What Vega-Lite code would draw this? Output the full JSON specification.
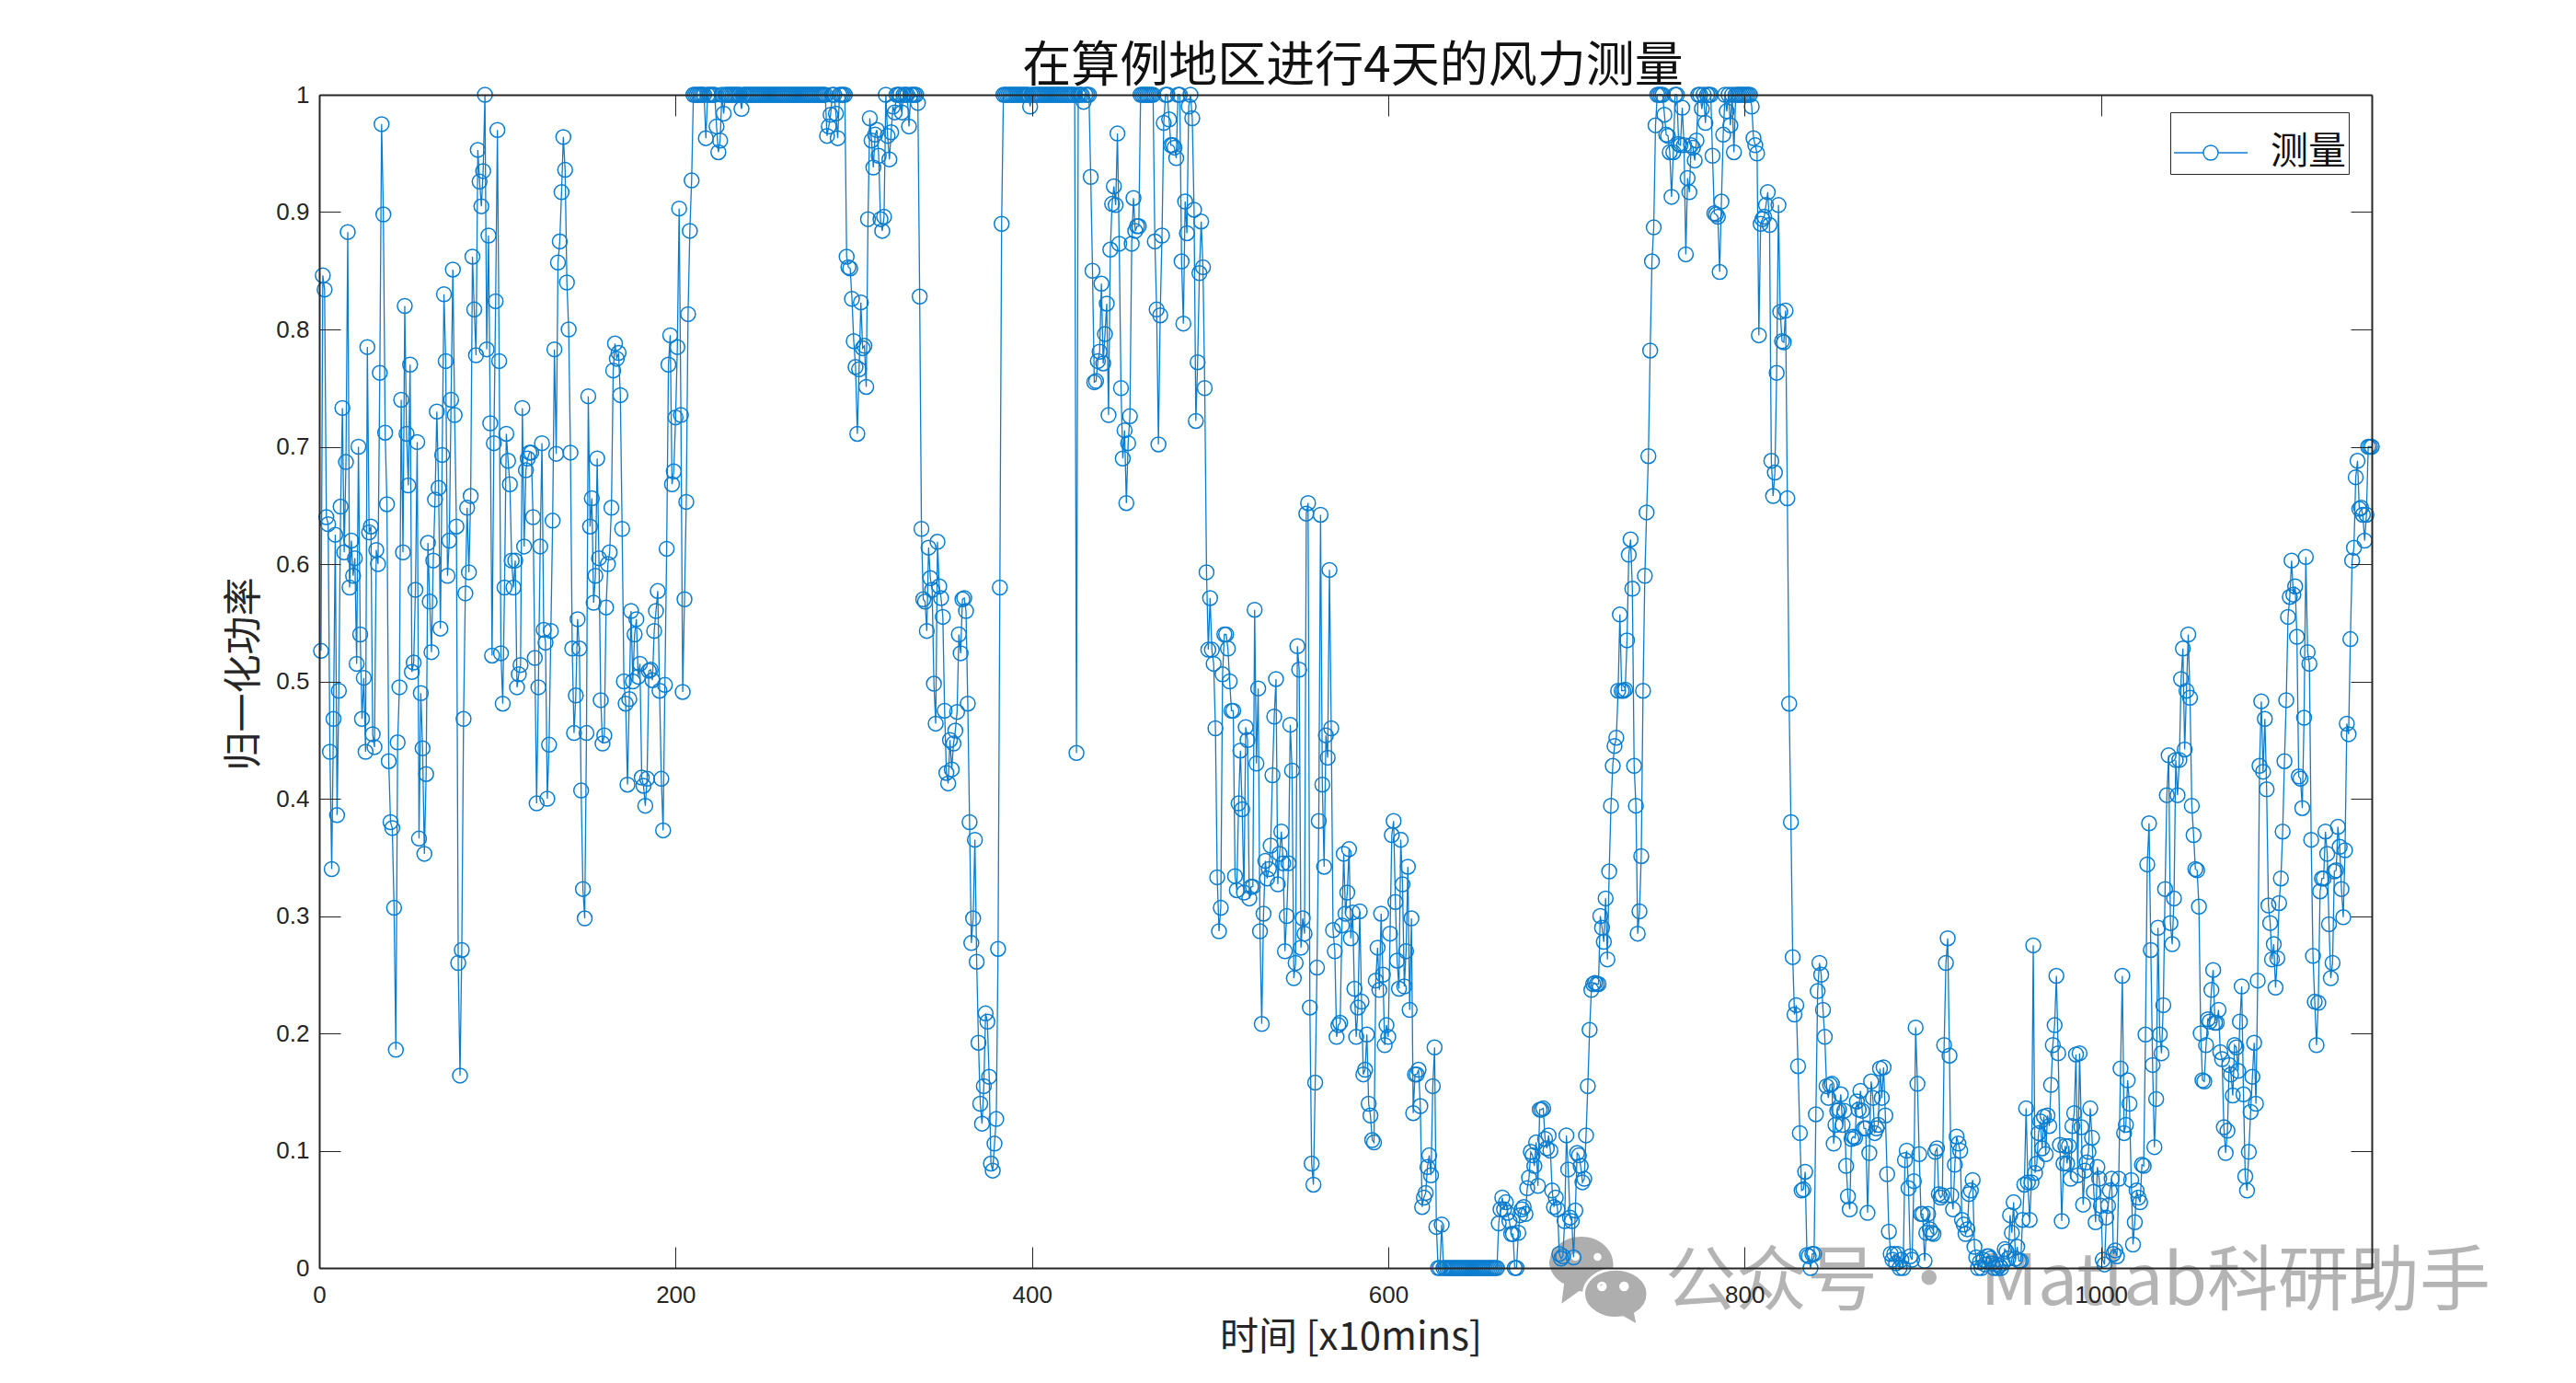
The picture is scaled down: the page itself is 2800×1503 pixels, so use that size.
{"$schema":"https://vega.github.io/schema/vega-lite/v6.json","width":2231,"height":1275,"autosize":{"type":"none"},"padding":{"left":347,"top":103,"right":222,"bottom":125},"background":"white","config":{"view":{"stroke":null}},"title":{"text":"在算例地区进行4天的风力测量","font":"Noto Sans CJK SC","fontSize":53,"fontWeight":"normal","color":"#111111","anchor":"middle","offset":-10,"dx":8},"data":{"values":[{"t":1,"p":0.526},{"t":2,"p":0.846},{"t":3,"p":0.834},{"t":4,"p":0.64},{"t":5,"p":0.634},{"t":6,"p":0.44},{"t":7,"p":0.34},{"t":8,"p":0.468},{"t":9,"p":0.625},{"t":10,"p":0.386},{"t":11,"p":0.492},{"t":12,"p":0.649},{"t":13,"p":0.733},{"t":14,"p":0.61},{"t":15,"p":0.687},{"t":16,"p":0.883},{"t":17,"p":0.58},{"t":18,"p":0.62},{"t":19,"p":0.59},{"t":20,"p":0.605},{"t":21,"p":0.515},{"t":22,"p":0.7},{"t":23,"p":0.54},{"t":24,"p":0.468},{"t":25,"p":0.503},{"t":26,"p":0.44},{"t":27,"p":0.785},{"t":28,"p":0.627},{"t":29,"p":0.632},{"t":30,"p":0.455},{"t":31,"p":0.444},{"t":32,"p":0.612},{"t":33,"p":0.6},{"t":34,"p":0.763},{"t":35,"p":0.975},{"t":36,"p":0.898},{"t":37,"p":0.712},{"t":38,"p":0.651},{"t":39,"p":0.432},{"t":40,"p":0.38},{"t":41,"p":0.375},{"t":42,"p":0.307},{"t":43,"p":0.186},{"t":44,"p":0.448},{"t":45,"p":0.495},{"t":46,"p":0.74},{"t":47,"p":0.61},{"t":48,"p":0.82},{"t":49,"p":0.711},{"t":50,"p":0.667},{"t":51,"p":0.77},{"t":52,"p":0.508},{"t":53,"p":0.516},{"t":54,"p":0.578},{"t":55,"p":0.704},{"t":56,"p":0.366},{"t":57,"p":0.49},{"t":58,"p":0.443},{"t":59,"p":0.353},{"t":60,"p":0.421},{"t":61,"p":0.618},{"t":62,"p":0.568},{"t":63,"p":0.525},{"t":64,"p":0.603},{"t":65,"p":0.655},{"t":66,"p":0.73},{"t":67,"p":0.665},{"t":68,"p":0.545},{"t":69,"p":0.693},{"t":70,"p":0.83},{"t":71,"p":0.773},{"t":72,"p":0.59},{"t":73,"p":0.62},{"t":74,"p":0.74},{"t":75,"p":0.851},{"t":76,"p":0.727},{"t":77,"p":0.632},{"t":78,"p":0.26},{"t":79,"p":0.164},{"t":80,"p":0.271},{"t":81,"p":0.468},{"t":82,"p":0.575},{"t":83,"p":0.648},{"t":84,"p":0.593},{"t":85,"p":0.658},{"t":86,"p":0.862},{"t":87,"p":0.817},{"t":88,"p":0.778},{"t":89,"p":0.953},{"t":90,"p":0.926},{"t":91,"p":0.905},{"t":92,"p":0.935},{"t":93,"p":1},{"t":94,"p":0.783},{"t":95,"p":0.88},{"t":96,"p":0.72},{"t":97,"p":0.522},{"t":98,"p":0.703},{"t":99,"p":0.824},{"t":100,"p":0.97},{"t":101,"p":0.773},{"t":102,"p":0.524},{"t":103,"p":0.481},{"t":104,"p":0.58},{"t":105,"p":0.711},{"t":106,"p":0.688},{"t":107,"p":0.668},{"t":108,"p":0.603},{"t":109,"p":0.58},{"t":110,"p":0.603},{"t":111,"p":0.495},{"t":112,"p":0.506},{"t":113,"p":0.514},{"t":114,"p":0.733},{"t":115,"p":0.615},{"t":116,"p":0.68},{"t":117,"p":0.69},{"t":118,"p":0.695},{"t":119,"p":0.695},{"t":120,"p":0.64},{"t":121,"p":0.52},{"t":122,"p":0.396},{"t":123,"p":0.495},{"t":124,"p":0.615},{"t":125,"p":0.703},{"t":126,"p":0.544},{"t":127,"p":0.533},{"t":128,"p":0.4},{"t":129,"p":0.446},{"t":130,"p":0.543},{"t":131,"p":0.637},{"t":132,"p":0.783},{"t":133,"p":0.694},{"t":134,"p":0.857},{"t":135,"p":0.875},{"t":136,"p":0.917},{"t":137,"p":0.964},{"t":138,"p":0.936},{"t":139,"p":0.84},{"t":140,"p":0.8},{"t":141,"p":0.695},{"t":142,"p":0.528},{"t":143,"p":0.456},{"t":144,"p":0.488},{"t":145,"p":0.553},{"t":146,"p":0.528},{"t":147,"p":0.407},{"t":148,"p":0.323},{"t":149,"p":0.298},{"t":150,"p":0.456},{"t":151,"p":0.743},{"t":152,"p":0.632},{"t":153,"p":0.656},{"t":154,"p":0.567},{"t":155,"p":0.59},{"t":156,"p":0.69},{"t":157,"p":0.605},{"t":158,"p":0.484},{"t":159,"p":0.447},{"t":160,"p":0.454},{"t":161,"p":0.563},{"t":162,"p":0.6},{"t":163,"p":0.61},{"t":164,"p":0.648},{"t":165,"p":0.765},{"t":166,"p":0.788},{"t":167,"p":0.775},{"t":168,"p":0.78},{"t":169,"p":0.744},{"t":170,"p":0.63},{"t":171,"p":0.5},{"t":172,"p":0.481},{"t":173,"p":0.412},{"t":174,"p":0.485},{"t":175,"p":0.56},{"t":176,"p":0.5},{"t":177,"p":0.54},{"t":178,"p":0.553},{"t":179,"p":0.504},{"t":180,"p":0.515},{"t":181,"p":0.418},{"t":182,"p":0.411},{"t":183,"p":0.394},{"t":184,"p":0.417},{"t":185,"p":0.509},{"t":186,"p":0.51},{"t":187,"p":0.501},{"t":188,"p":0.543},{"t":189,"p":0.56},{"t":190,"p":0.577},{"t":191,"p":0.492},{"t":192,"p":0.417},{"t":193,"p":0.373},{"t":194,"p":0.497},{"t":195,"p":0.613},{"t":196,"p":0.77},{"t":197,"p":0.795},{"t":198,"p":0.668},{"t":199,"p":0.679},{"t":200,"p":0.725},{"t":201,"p":0.785},{"t":202,"p":0.903},{"t":203,"p":0.727},{"t":204,"p":0.491},{"t":205,"p":0.57},{"t":206,"p":0.653},{"t":207,"p":0.813},{"t":208,"p":0.884},{"t":209,"p":0.927},{"t":210,"p":1},{"t":211,"p":1},{"t":212,"p":1},{"t":213,"p":1},{"t":214,"p":1},{"t":215,"p":1},{"t":216,"p":1},{"t":217,"p":0.963},{"t":218,"p":1},{"t":219,"p":1},{"t":220,"p":1},{"t":221,"p":1},{"t":222,"p":1},{"t":223,"p":0.973},{"t":224,"p":0.951},{"t":225,"p":0.961},{"t":226,"p":1},{"t":227,"p":0.984},{"t":228,"p":1},{"t":229,"p":1},{"t":230,"p":1},{"t":231,"p":1},{"t":232,"p":1},{"t":233,"p":1},{"t":234,"p":1},{"t":235,"p":1},{"t":236,"p":1},{"t":237,"p":0.988},{"t":238,"p":1},{"t":239,"p":1},{"t":240,"p":1},{"t":241,"p":1},{"t":242,"p":1},{"t":243,"p":1},{"t":244,"p":1},{"t":245,"p":1},{"t":246,"p":1},{"t":247,"p":1},{"t":248,"p":1},{"t":249,"p":1},{"t":250,"p":1},{"t":251,"p":1},{"t":252,"p":1},{"t":253,"p":1},{"t":254,"p":1},{"t":255,"p":1},{"t":256,"p":1},{"t":257,"p":1},{"t":258,"p":1},{"t":259,"p":1},{"t":260,"p":1},{"t":261,"p":1},{"t":262,"p":1},{"t":263,"p":1},{"t":264,"p":1},{"t":265,"p":1},{"t":266,"p":1},{"t":267,"p":1},{"t":268,"p":1},{"t":269,"p":1},{"t":270,"p":1},{"t":271,"p":1},{"t":272,"p":1},{"t":273,"p":1},{"t":274,"p":1},{"t":275,"p":1},{"t":276,"p":1},{"t":277,"p":1},{"t":278,"p":1},{"t":279,"p":1},{"t":280,"p":1},{"t":281,"p":1},{"t":282,"p":1},{"t":283,"p":1},{"t":284,"p":1},{"t":285,"p":0.965},{"t":286,"p":0.973},{"t":287,"p":0.983},{"t":288,"p":1},{"t":289,"p":1},{"t":290,"p":0.984},{"t":291,"p":0.963},{"t":292,"p":1},{"t":293,"p":1},{"t":294,"p":1},{"t":295,"p":1},{"t":296,"p":0.862},{"t":297,"p":0.853},{"t":298,"p":0.852},{"t":299,"p":0.826},{"t":300,"p":0.79},{"t":301,"p":0.768},{"t":302,"p":0.711},{"t":303,"p":0.766},{"t":304,"p":0.823},{"t":305,"p":0.784},{"t":306,"p":0.786},{"t":307,"p":0.751},{"t":308,"p":0.894},{"t":309,"p":0.98},{"t":310,"p":0.961},{"t":311,"p":0.938},{"t":312,"p":0.966},{"t":313,"p":0.97},{"t":314,"p":0.948},{"t":315,"p":0.894},{"t":316,"p":0.884},{"t":317,"p":0.896},{"t":318,"p":1},{"t":319,"p":0.965},{"t":320,"p":0.945},{"t":321,"p":0.968},{"t":322,"p":0.99},{"t":323,"p":0.985},{"t":324,"p":1},{"t":325,"p":1},{"t":326,"p":1},{"t":327,"p":0.985},{"t":328,"p":1},{"t":329,"p":1},{"t":330,"p":1},{"t":331,"p":0.973},{"t":332,"p":1},{"t":333,"p":1},{"t":334,"p":1},{"t":335,"p":1},{"t":336,"p":0.993},{"t":337,"p":0.828},{"t":338,"p":0.63},{"t":339,"p":0.57},{"t":340,"p":0.568},{"t":341,"p":0.543},{"t":342,"p":0.614},{"t":343,"p":0.588},{"t":344,"p":0.578},{"t":345,"p":0.498},{"t":346,"p":0.464},{"t":347,"p":0.619},{"t":348,"p":0.581},{"t":349,"p":0.571},{"t":350,"p":0.555},{"t":351,"p":0.475},{"t":352,"p":0.422},{"t":353,"p":0.413},{"t":354,"p":0.45},{"t":355,"p":0.425},{"t":356,"p":0.447},{"t":357,"p":0.458},{"t":358,"p":0.474},{"t":359,"p":0.54},{"t":360,"p":0.524},{"t":361,"p":0.57},{"t":362,"p":0.571},{"t":363,"p":0.56},{"t":364,"p":0.481},{"t":365,"p":0.38},{"t":366,"p":0.277},{"t":367,"p":0.298},{"t":368,"p":0.365},{"t":369,"p":0.261},{"t":370,"p":0.192},{"t":371,"p":0.14},{"t":372,"p":0.123},{"t":373,"p":0.155},{"t":374,"p":0.217},{"t":375,"p":0.21},{"t":376,"p":0.163},{"t":377,"p":0.089},{"t":378,"p":0.083},{"t":379,"p":0.106},{"t":380,"p":0.127},{"t":381,"p":0.272},{"t":382,"p":0.58},{"t":383,"p":0.89},{"t":384,"p":1},{"t":385,"p":1},{"t":386,"p":1},{"t":387,"p":1},{"t":388,"p":1},{"t":389,"p":1},{"t":390,"p":1},{"t":391,"p":1},{"t":392,"p":1},{"t":393,"p":1},{"t":394,"p":1},{"t":395,"p":1},{"t":396,"p":1},{"t":397,"p":1},{"t":398,"p":1},{"t":399,"p":0.99},{"t":400,"p":1},{"t":401,"p":1},{"t":402,"p":1},{"t":403,"p":1},{"t":404,"p":1},{"t":405,"p":1},{"t":406,"p":1},{"t":407,"p":1},{"t":408,"p":1},{"t":409,"p":1},{"t":410,"p":1},{"t":411,"p":1},{"t":412,"p":1},{"t":413,"p":1},{"t":414,"p":1},{"t":415,"p":1},{"t":416,"p":1},{"t":417,"p":1},{"t":418,"p":1},{"t":419,"p":1},{"t":420,"p":1},{"t":421,"p":1},{"t":422,"p":1},{"t":423,"p":1},{"t":424,"p":1},{"t":425,"p":0.439},{"t":426,"p":1},{"t":427,"p":1},{"t":428,"p":1},{"t":429,"p":0.994},{"t":430,"p":1},{"t":431,"p":1},{"t":432,"p":1},{"t":433,"p":0.93},{"t":434,"p":0.85},{"t":435,"p":0.755},{"t":436,"p":0.756},{"t":437,"p":0.773},{"t":438,"p":0.781},{"t":439,"p":0.839},{"t":440,"p":0.771},{"t":441,"p":0.796},{"t":442,"p":0.822},{"t":443,"p":0.727},{"t":444,"p":0.868},{"t":445,"p":0.907},{"t":446,"p":0.922},{"t":447,"p":0.906},{"t":448,"p":0.967},{"t":449,"p":0.873},{"t":450,"p":0.75},{"t":451,"p":0.69},{"t":452,"p":0.714},{"t":453,"p":0.652},{"t":454,"p":0.703},{"t":455,"p":0.726},{"t":456,"p":0.873},{"t":457,"p":0.912},{"t":458,"p":0.884},{"t":459,"p":0.888},{"t":460,"p":0.888},{"t":461,"p":1},{"t":462,"p":1},{"t":463,"p":1},{"t":464,"p":1},{"t":465,"p":1},{"t":466,"p":1},{"t":467,"p":1},{"t":468,"p":1},{"t":469,"p":0.875},{"t":470,"p":0.817},{"t":471,"p":0.702},{"t":472,"p":0.812},{"t":473,"p":0.88},{"t":474,"p":0.976},{"t":475,"p":1},{"t":476,"p":1},{"t":477,"p":0.979},{"t":478,"p":0.957},{"t":479,"p":0.957},{"t":480,"p":0.955},{"t":481,"p":0.946},{"t":482,"p":1},{"t":483,"p":1},{"t":484,"p":0.858},{"t":485,"p":0.805},{"t":486,"p":0.909},{"t":487,"p":0.882},{"t":488,"p":0.99},{"t":489,"p":1},{"t":490,"p":0.98},{"t":491,"p":0.902},{"t":492,"p":0.722},{"t":493,"p":0.772},{"t":494,"p":0.848},{"t":495,"p":0.892},{"t":496,"p":0.853},{"t":497,"p":0.75},{"t":498,"p":0.593},{"t":499,"p":0.527},{"t":500,"p":0.571},{"t":501,"p":0.527},{"t":502,"p":0.515},{"t":503,"p":0.46},{"t":504,"p":0.333},{"t":505,"p":0.287},{"t":506,"p":0.307},{"t":507,"p":0.506},{"t":508,"p":0.54},{"t":509,"p":0.54},{"t":510,"p":0.528},{"t":511,"p":0.5},{"t":512,"p":0.475},{"t":513,"p":0.475},{"t":514,"p":0.334},{"t":515,"p":0.322},{"t":516,"p":0.396},{"t":517,"p":0.441},{"t":518,"p":0.391},{"t":519,"p":0.32},{"t":520,"p":0.461},{"t":521,"p":0.45},{"t":522,"p":0.315},{"t":523,"p":0.325},{"t":524,"p":0.325},{"t":525,"p":0.561},{"t":526,"p":0.43},{"t":527,"p":0.494},{"t":528,"p":0.287},{"t":529,"p":0.208},{"t":530,"p":0.302},{"t":531,"p":0.347},{"t":532,"p":0.332},{"t":533,"p":0.34},{"t":534,"p":0.36},{"t":535,"p":0.42},{"t":536,"p":0.47},{"t":537,"p":0.502},{"t":538,"p":0.327},{"t":539,"p":0.353},{"t":540,"p":0.372},{"t":541,"p":0.345},{"t":542,"p":0.27},{"t":543,"p":0.3},{"t":544,"p":0.345},{"t":545,"p":0.463},{"t":546,"p":0.424},{"t":547,"p":0.247},{"t":548,"p":0.26},{"t":549,"p":0.53},{"t":550,"p":0.51},{"t":551,"p":0.273},{"t":552,"p":0.298},{"t":553,"p":0.285},{"t":554,"p":0.643},{"t":555,"p":0.652},{"t":556,"p":0.222},{"t":557,"p":0.089},{"t":558,"p":0.071},{"t":559,"p":0.158},{"t":560,"p":0.256},{"t":561,"p":0.381},{"t":562,"p":0.642},{"t":563,"p":0.412},{"t":564,"p":0.342},{"t":565,"p":0.454},{"t":566,"p":0.435},{"t":567,"p":0.595},{"t":568,"p":0.46},{"t":569,"p":0.288},{"t":570,"p":0.27},{"t":571,"p":0.197},{"t":572,"p":0.207},{"t":573,"p":0.209},{"t":574,"p":0.292},{"t":575,"p":0.353},{"t":576,"p":0.302},{"t":577,"p":0.32},{"t":578,"p":0.357},{"t":579,"p":0.281},{"t":580,"p":0.303},{"t":581,"p":0.238},{"t":582,"p":0.197},{"t":583,"p":0.222},{"t":584,"p":0.304},{"t":585,"p":0.227},{"t":586,"p":0.165},{"t":587,"p":0.169},{"t":588,"p":0.199},{"t":589,"p":0.14},{"t":590,"p":0.13},{"t":591,"p":0.109},{"t":592,"p":0.107},{"t":593,"p":0.245},{"t":594,"p":0.273},{"t":595,"p":0.237},{"t":596,"p":0.302},{"t":597,"p":0.25},{"t":598,"p":0.19},{"t":599,"p":0.207},{"t":600,"p":0.197},{"t":601,"p":0.285},{"t":602,"p":0.369},{"t":603,"p":0.381},{"t":604,"p":0.312},{"t":605,"p":0.262},{"t":606,"p":0.238},{"t":607,"p":0.365},{"t":608,"p":0.327},{"t":609,"p":0.24},{"t":610,"p":0.27},{"t":611,"p":0.342},{"t":612,"p":0.22},{"t":613,"p":0.298},{"t":614,"p":0.132},{"t":615,"p":0.165},{"t":616,"p":0.165},{"t":617,"p":0.169},{"t":618,"p":0.138},{"t":619,"p":0.052},{"t":620,"p":0.06},{"t":621,"p":0.064},{"t":622,"p":0.086},{"t":623,"p":0.096},{"t":624,"p":0.079},{"t":625,"p":0.155},{"t":626,"p":0.188},{"t":627,"p":0.035},{"t":628,"p":0},{"t":629,"p":0},{"t":630,"p":0.037},{"t":631,"p":0},{"t":632,"p":0},{"t":633,"p":0},{"t":634,"p":0},{"t":635,"p":0},{"t":636,"p":0},{"t":637,"p":0},{"t":638,"p":0},{"t":639,"p":0},{"t":640,"p":0},{"t":641,"p":0},{"t":642,"p":0},{"t":643,"p":0},{"t":644,"p":0},{"t":645,"p":0},{"t":646,"p":0},{"t":647,"p":0},{"t":648,"p":0},{"t":649,"p":0},{"t":650,"p":0},{"t":651,"p":0},{"t":652,"p":0},{"t":653,"p":0},{"t":654,"p":0},{"t":655,"p":0},{"t":656,"p":0},{"t":657,"p":0},{"t":658,"p":0},{"t":659,"p":0},{"t":660,"p":0},{"t":661,"p":0},{"t":662,"p":0.038},{"t":663,"p":0.05},{"t":664,"p":0.06},{"t":665,"p":0.05},{"t":666,"p":0.056},{"t":667,"p":0.047},{"t":668,"p":0.04},{"t":669,"p":0.029},{"t":670,"p":0.029},{"t":671,"p":0},{"t":672,"p":0},{"t":673,"p":0.03},{"t":674,"p":0.045},{"t":675,"p":0.05},{"t":676,"p":0.052},{"t":677,"p":0.046},{"t":678,"p":0.068},{"t":679,"p":0.077},{"t":680,"p":0.099},{"t":681,"p":0.096},{"t":682,"p":0.087},{"t":683,"p":0.107},{"t":684,"p":0.07},{"t":685,"p":0.135},{"t":686,"p":0.135},{"t":687,"p":0.136},{"t":688,"p":0.11},{"t":689,"p":0.102},{"t":690,"p":0.113},{"t":691,"p":0.1},{"t":692,"p":0.066},{"t":693,"p":0.052},{"t":694,"p":0.06},{"t":695,"p":0.05},{"t":696,"p":0.012},{"t":697,"p":0.008},{"t":698,"p":0.01},{"t":699,"p":0.04},{"t":700,"p":0.113},{"t":701,"p":0.084},{"t":702,"p":0.043},{"t":703,"p":0.04},{"t":704,"p":0.009},{"t":705,"p":0.049},{"t":706,"p":0.098},{"t":707,"p":0.096},{"t":708,"p":0.087},{"t":709,"p":0.073},{"t":710,"p":0.076},{"t":711,"p":0.113},{"t":712,"p":0.155},{"t":713,"p":0.203},{"t":714,"p":0.237},{"t":715,"p":0.242},{"t":716,"p":0.243},{"t":717,"p":0.242},{"t":718,"p":0.242},{"t":719,"p":0.3},{"t":720,"p":0.29},{"t":721,"p":0.278},{"t":722,"p":0.315},{"t":723,"p":0.263},{"t":724,"p":0.338},{"t":725,"p":0.394},{"t":726,"p":0.428},{"t":727,"p":0.445},{"t":728,"p":0.452},{"t":729,"p":0.492},{"t":730,"p":0.557},{"t":731,"p":0.492},{"t":732,"p":0.492},{"t":733,"p":0.493},{"t":734,"p":0.535},{"t":735,"p":0.608},{"t":736,"p":0.621},{"t":737,"p":0.579},{"t":738,"p":0.428},{"t":739,"p":0.394},{"t":740,"p":0.285},{"t":741,"p":0.304},{"t":742,"p":0.351},{"t":743,"p":0.492},{"t":744,"p":0.59},{"t":745,"p":0.644},{"t":746,"p":0.692},{"t":747,"p":0.782},{"t":748,"p":0.858},{"t":749,"p":0.887},{"t":750,"p":0.974},{"t":751,"p":1},{"t":752,"p":1},{"t":753,"p":1},{"t":754,"p":1},{"t":755,"p":0.983},{"t":756,"p":0.966},{"t":757,"p":0.965},{"t":758,"p":0.951},{"t":759,"p":0.913},{"t":760,"p":0.951},{"t":761,"p":1},{"t":762,"p":1},{"t":763,"p":0.958},{"t":764,"p":0.957},{"t":765,"p":0.989},{"t":766,"p":0.957},{"t":767,"p":0.864},{"t":768,"p":0.929},{"t":769,"p":0.917},{"t":770,"p":0.957},{"t":771,"p":0.955},{"t":772,"p":0.944},{"t":773,"p":0.961},{"t":774,"p":1},{"t":775,"p":1},{"t":776,"p":0.988},{"t":777,"p":1},{"t":778,"p":0.976},{"t":779,"p":1},{"t":780,"p":1},{"t":781,"p":1},{"t":782,"p":0.948},{"t":783,"p":0.899},{"t":784,"p":0.898},{"t":785,"p":0.896},{"t":786,"p":0.849},{"t":787,"p":0.909},{"t":788,"p":0.966},{"t":789,"p":1},{"t":790,"p":0.986},{"t":791,"p":1},{"t":792,"p":0.974},{"t":793,"p":1},{"t":794,"p":0.951},{"t":795,"p":1},{"t":796,"p":1},{"t":797,"p":1},{"t":798,"p":1},{"t":799,"p":1},{"t":800,"p":1},{"t":801,"p":1},{"t":802,"p":1},{"t":803,"p":1},{"t":804,"p":0.99},{"t":805,"p":0.963},{"t":806,"p":0.957},{"t":807,"p":0.95},{"t":808,"p":0.795},{"t":809,"p":0.89},{"t":810,"p":0.894},{"t":811,"p":0.896},{"t":812,"p":0.906},{"t":813,"p":0.917},{"t":814,"p":0.889},{"t":815,"p":0.688},{"t":816,"p":0.658},{"t":817,"p":0.678},{"t":818,"p":0.763},{"t":819,"p":0.906},{"t":820,"p":0.815},{"t":821,"p":0.79},{"t":822,"p":0.789},{"t":823,"p":0.816},{"t":824,"p":0.656},{"t":825,"p":0.481},{"t":826,"p":0.38},{"t":827,"p":0.265},{"t":828,"p":0.216},{"t":829,"p":0.224},{"t":830,"p":0.172},{"t":831,"p":0.115},{"t":832,"p":0.066},{"t":833,"p":0.067},{"t":834,"p":0.082},{"t":835,"p":0.011},{"t":836,"p":0.01},{"t":837,"p":0},{"t":838,"p":0.012},{"t":839,"p":0.012},{"t":840,"p":0.131},{"t":841,"p":0.236},{"t":842,"p":0.26},{"t":843,"p":0.25},{"t":844,"p":0.22},{"t":845,"p":0.197},{"t":846,"p":0.155},{"t":847,"p":0.145},{"t":848,"p":0.156},{"t":849,"p":0.157},{"t":850,"p":0.106},{"t":851,"p":0.122},{"t":852,"p":0.134},{"t":853,"p":0.135},{"t":854,"p":0.148},{"t":855,"p":0.122},{"t":856,"p":0.134},{"t":857,"p":0.087},{"t":858,"p":0.061},{"t":859,"p":0.05},{"t":860,"p":0.11},{"t":861,"p":0.112},{"t":862,"p":0.111},{"t":863,"p":0.142},{"t":864,"p":0.135},{"t":865,"p":0.151},{"t":866,"p":0.134},{"t":867,"p":0.119},{"t":868,"p":0.119},{"t":869,"p":0.047},{"t":870,"p":0.098},{"t":871,"p":0.159},{"t":872,"p":0.145},{"t":873,"p":0.115},{"t":874,"p":0.119},{"t":875,"p":0.122},{"t":876,"p":0.17},{"t":877,"p":0.145},{"t":878,"p":0.171},{"t":879,"p":0.13},{"t":880,"p":0.08},{"t":881,"p":0.031},{"t":882,"p":0.012},{"t":883,"p":0.007},{"t":884,"p":0.012},{"t":885,"p":0.004},{"t":886,"p":0.012},{"t":887,"p":0},{"t":888,"p":0.007},{"t":889,"p":0},{"t":890,"p":0.092},{"t":891,"p":0.1},{"t":892,"p":0.068},{"t":893,"p":0.01},{"t":894,"p":0.007},{"t":895,"p":0.074},{"t":896,"p":0.205},{"t":897,"p":0.157},{"t":898,"p":0.097},{"t":899,"p":0.046},{"t":900,"p":0.046},{"t":901,"p":0.006},{"t":902,"p":0.03},{"t":903,"p":0.046},{"t":904,"p":0.033},{"t":905,"p":0.03},{"t":906,"p":0.029},{"t":907,"p":0.099},{"t":908,"p":0.102},{"t":909,"p":0.063},{"t":910,"p":0.06},{"t":911,"p":0.062},{"t":912,"p":0.19},{"t":913,"p":0.26},{"t":914,"p":0.281},{"t":915,"p":0.181},{"t":916,"p":0.062},{"t":917,"p":0.05},{"t":918,"p":0.088},{"t":919,"p":0.112},{"t":920,"p":0.106},{"t":921,"p":0.1},{"t":922,"p":0.041},{"t":923,"p":0.037},{"t":924,"p":0.029},{"t":925,"p":0.033},{"t":926,"p":0.063},{"t":927,"p":0.066},{"t":928,"p":0.075},{"t":929,"p":0.018},{"t":930,"p":0.009},{"t":931,"p":0},{"t":932,"p":0.005},{"t":933,"p":0},{"t":934,"p":0.007},{"t":935,"p":0.003},{"t":936,"p":0.01},{"t":937,"p":0.01},{"t":938,"p":0.008},{"t":939,"p":0.004},{"t":940,"p":0},{"t":941,"p":0.003},{"t":942,"p":0},{"t":943,"p":0.002},{"t":944,"p":0},{"t":945,"p":0.004},{"t":946,"p":0.016},{"t":947,"p":0.014},{"t":948,"p":0.008},{"t":949,"p":0.045},{"t":950,"p":0.03},{"t":951,"p":0.056},{"t":952,"p":0.008},{"t":953,"p":0.018},{"t":954,"p":0.006},{"t":955,"p":0.006},{"t":956,"p":0.041},{"t":957,"p":0.071},{"t":958,"p":0.136},{"t":959,"p":0.073},{"t":960,"p":0.041},{"t":961,"p":0.073},{"t":962,"p":0.275},{"t":963,"p":0.081},{"t":964,"p":0.089},{"t":965,"p":0.115},{"t":966,"p":0.125},{"t":967,"p":0.102},{"t":968,"p":0.129},{"t":969,"p":0.097},{"t":970,"p":0.13},{"t":971,"p":0.121},{"t":972,"p":0.156},{"t":973,"p":0.19},{"t":974,"p":0.207},{"t":975,"p":0.249},{"t":976,"p":0.183},{"t":977,"p":0.105},{"t":978,"p":0.04},{"t":979,"p":0.089},{"t":980,"p":0.104},{"t":981,"p":0.089},{"t":982,"p":0.104},{"t":983,"p":0.076},{"t":984,"p":0.121},{"t":985,"p":0.132},{"t":986,"p":0.182},{"t":987,"p":0.079},{"t":988,"p":0.183},{"t":989,"p":0.12},{"t":990,"p":0.054},{"t":991,"p":0.083},{"t":992,"p":0.09},{"t":993,"p":0.099},{"t":994,"p":0.136},{"t":995,"p":0.111},{"t":996,"p":0.065},{"t":997,"p":0.039},{"t":998,"p":0.086},{"t":999,"p":0.076},{"t":1000,"p":0.053},{"t":1001,"p":0.007},{"t":1002,"p":0.003},{"t":1003,"p":0.043},{"t":1004,"p":0.053},{"t":1005,"p":0.066},{"t":1006,"p":0.076},{"t":1007,"p":0.012},{"t":1008,"p":0.015},{"t":1009,"p":0.01},{"t":1010,"p":0.076},{"t":1011,"p":0.17},{"t":1012,"p":0.249},{"t":1013,"p":0.115},{"t":1014,"p":0.122},{"t":1015,"p":0.16},{"t":1016,"p":0.14},{"t":1017,"p":0.075},{"t":1018,"p":0.02},{"t":1019,"p":0.039},{"t":1020,"p":0.066},{"t":1021,"p":0.06},{"t":1022,"p":0.056},{"t":1023,"p":0.088},{"t":1024,"p":0.087},{"t":1025,"p":0.199},{"t":1026,"p":0.344},{"t":1027,"p":0.379},{"t":1028,"p":0.271},{"t":1029,"p":0.173},{"t":1030,"p":0.103},{"t":1031,"p":0.144},{"t":1032,"p":0.29},{"t":1033,"p":0.199},{"t":1034,"p":0.183},{"t":1035,"p":0.224},{"t":1036,"p":0.323},{"t":1037,"p":0.403},{"t":1038,"p":0.437},{"t":1039,"p":0.294},{"t":1040,"p":0.276},{"t":1041,"p":0.315},{"t":1042,"p":0.433},{"t":1043,"p":0.403},{"t":1044,"p":0.433},{"t":1045,"p":0.502},{"t":1046,"p":0.528},{"t":1047,"p":0.442},{"t":1048,"p":0.492},{"t":1049,"p":0.54},{"t":1050,"p":0.486},{"t":1051,"p":0.394},{"t":1052,"p":0.369},{"t":1053,"p":0.34},{"t":1054,"p":0.339},{"t":1055,"p":0.308},{"t":1056,"p":0.2},{"t":1057,"p":0.16},{"t":1058,"p":0.159},{"t":1059,"p":0.19},{"t":1060,"p":0.212},{"t":1061,"p":0.21},{"t":1062,"p":0.237},{"t":1063,"p":0.254},{"t":1064,"p":0.209},{"t":1065,"p":0.209},{"t":1066,"p":0.22},{"t":1067,"p":0.184},{"t":1068,"p":0.178},{"t":1069,"p":0.12},{"t":1070,"p":0.098},{"t":1071,"p":0.117},{"t":1072,"p":0.173},{"t":1073,"p":0.165},{"t":1074,"p":0.147},{"t":1075,"p":0.19},{"t":1076,"p":0.188},{"t":1077,"p":0.168},{"t":1078,"p":0.21},{"t":1079,"p":0.24},{"t":1080,"p":0.148},{"t":1081,"p":0.078},{"t":1082,"p":0.066},{"t":1083,"p":0.099},{"t":1084,"p":0.133},{"t":1085,"p":0.163},{"t":1086,"p":0.192},{"t":1087,"p":0.14},{"t":1088,"p":0.245},{"t":1089,"p":0.428},{"t":1090,"p":0.483},{"t":1091,"p":0.423},{"t":1092,"p":0.468},{"t":1093,"p":0.408},{"t":1094,"p":0.309},{"t":1095,"p":0.294},{"t":1096,"p":0.263},{"t":1097,"p":0.276},{"t":1098,"p":0.239},{"t":1099,"p":0.264},{"t":1100,"p":0.311},{"t":1101,"p":0.332},{"t":1102,"p":0.372},{"t":1103,"p":0.432},{"t":1104,"p":0.484},{"t":1105,"p":0.555},{"t":1106,"p":0.572},{"t":1107,"p":0.603},{"t":1108,"p":0.574},{"t":1109,"p":0.581},{"t":1110,"p":0.538},{"t":1111,"p":0.419},{"t":1112,"p":0.417},{"t":1113,"p":0.392},{"t":1114,"p":0.469},{"t":1115,"p":0.606},{"t":1116,"p":0.525},{"t":1117,"p":0.515},{"t":1118,"p":0.365},{"t":1119,"p":0.266},{"t":1120,"p":0.227},{"t":1121,"p":0.19},{"t":1122,"p":0.226},{"t":1123,"p":0.321},{"t":1124,"p":0.332},{"t":1125,"p":0.332},{"t":1126,"p":0.372},{"t":1127,"p":0.353},{"t":1128,"p":0.293},{"t":1129,"p":0.247},{"t":1130,"p":0.26},{"t":1131,"p":0.338},{"t":1132,"p":0.339},{"t":1133,"p":0.376},{"t":1134,"p":0.359},{"t":1135,"p":0.323},{"t":1136,"p":0.299},{"t":1137,"p":0.356},{"t":1138,"p":0.464},{"t":1139,"p":0.455},{"t":1140,"p":0.536},{"t":1141,"p":0.603},{"t":1142,"p":0.614},{"t":1143,"p":0.674},{"t":1144,"p":0.688},{"t":1145,"p":0.647},{"t":1146,"p":0.648},{"t":1147,"p":0.642},{"t":1148,"p":0.62},{"t":1149,"p":0.642},{"t":1150,"p":0.7},{"t":1151,"p":0.7},{"t":1152,"p":0.7}]},"layer":[{"data":{"values":[{"label":"公众号 · Matlab科研助手","t":755.4,"p":-0.0133}]},"mark":{"type":"text","align":"left","baseline":"middle","font":"Noto Sans CJK SC","fontSize":77,"color":"#b4b4b4","clip":false},"encoding":{"x":{"field":"t","type":"quantitative","axis":null,"scale":{"domain":[0,1152],"nice":false}},"y":{"field":"p","type":"quantitative","axis":null,"scale":{"domain":[0,1],"nice":false}},"text":{"field":"label"}}},{"data":{"values":[{"t":718,"p":-0.0094}]},"mark":{"type":"point","filled":true,"opacity":1,"color":"#aeaeae","size":11449,"shape":"M-1,-0.3A0.65,0.56,0,1,1,0.3,-0.3A0.65,0.56,0,0,1,-0.4,0.25L-0.75,0.5L-0.7,0.1A0.65,0.56,0,0,1,-1,-0.3ZM-0.55,-0.45A0.08,0.08,0,1,0,-0.39,-0.45A0.08,0.08,0,1,0,-0.55,-0.45ZM-0.1,-0.45A0.08,0.08,0,1,0,0.06,-0.45A0.08,0.08,0,1,0,-0.1,-0.45Z"},"encoding":{"x":{"field":"t","type":"quantitative","axis":null,"scale":{"domain":[0,1152],"nice":false}},"y":{"field":"p","type":"quantitative","axis":null,"scale":{"domain":[0,1],"nice":false}}}},{"data":{"values":[{"t":718,"p":-0.0094}]},"mark":{"type":"point","filled":true,"opacity":1,"color":"#aeaeae","stroke":"white","strokeWidth":3,"size":11449,"shape":"M-0.3,0.3A0.65,0.5,0,1,1,1,0.3A0.65,0.5,0,0,1,0.75,0.7L0.8,0.95L0.5,0.78A0.65,0.5,0,0,1,-0.3,0.3ZM0,0.15A0.07,0.07,0,1,0,0.14,0.15A0.07,0.07,0,1,0,0,0.15ZM0.45,0.15A0.07,0.07,0,1,0,0.59,0.15A0.07,0.07,0,1,0,0.45,0.15Z"},"encoding":{"x":{"field":"t","type":"quantitative","axis":null,"scale":{"domain":[0,1152],"nice":false}},"y":{"field":"p","type":"quantitative","axis":null,"scale":{"domain":[0,1],"nice":false}}}},{"mark":{"type":"line","strokeWidth":1.3,"clip":false},"encoding":{"x":{"field":"t","type":"quantitative","scale":{"domain":[0,1152],"nice":false},"axis":{"orient":"bottom","values":[0,200,400,600,800,1000],"format":"d","grid":false,"labelFlush":false,"tickSize":-23,"tickColor":"#262626","domainColor":"#262626","domainWidth":2,"labelFont":"Liberation Sans","labelFontSize":26,"labelColor":"#262626","labelPadding":39,"title":"时间 [x10mins]","titleFont":"Noto Sans CJK SC","titleFontSize":42,"titleFontWeight":"normal","titleColor":"#262626","titlePadding":13,"titleX":1121,"zindex":1}},"y":{"field":"p","type":"quantitative","scale":{"domain":[0,1],"nice":false},"axis":{"orient":"left","values":[0,0.1,0.2,0.3,0.4,0.5,0.6,0.7,0.8,0.9,1],"format":"~g","grid":false,"tickSize":-23,"tickColor":"#262626","domainColor":"#262626","domainWidth":2,"labelFont":"Liberation Sans","labelFontSize":26,"labelColor":"#262626","labelPadding":34,"title":"归一化功率","titleFont":"Noto Sans CJK SC","titleFontSize":42,"titleFontWeight":"normal","titleColor":"#262626","titlePadding":12,"titleY":629,"zindex":1}},"color":{"datum":"测量","scale":{"range":["#0b7dcf"]},"legend":{"orient":"none","legendX":2012,"legendY":19,"title":null,"strokeColor":"#262626","fillColor":"white","padding":3,"labelFont":"Noto Sans CJK SC","labelFontSize":41,"labelColor":"#111111","labelOffset":24,"symbolType":"M-1,0L-0.2,0A0.2,0.2,0,1,1,0.2,0A0.2,0.2,0,1,1,-0.2,0M0.2,0L1,0","symbolSize":6400,"symbolStrokeWidth":1.4,"symbolFillColor":"transparent","zindex":2}}}},{"mark":{"type":"point","filled":false,"opacity":1,"size":256,"strokeWidth":1.5,"clip":false},"encoding":{"x":{"field":"t","type":"quantitative","scale":{"domain":[0,1152],"nice":false},"axis":{"orient":"top","values":[0,200,400,600,800,1000],"labels":false,"title":null,"grid":false,"tickSize":-23,"tickColor":"#262626","domainColor":"#262626","domainWidth":2,"zindex":1}},"y":{"field":"p","type":"quantitative","scale":{"domain":[0,1],"nice":false},"axis":{"orient":"right","values":[0,0.1,0.2,0.3,0.4,0.5,0.6,0.7,0.8,0.9,1],"labels":false,"title":null,"grid":false,"tickSize":-23,"tickColor":"#262626","domainColor":"#262626","domainWidth":2,"zindex":1}},"color":{"datum":"测量","scale":{"range":["#0b7dcf"]},"legend":null}}}],"resolve":{"axis":{"x":"independent","y":"independent"}}}
